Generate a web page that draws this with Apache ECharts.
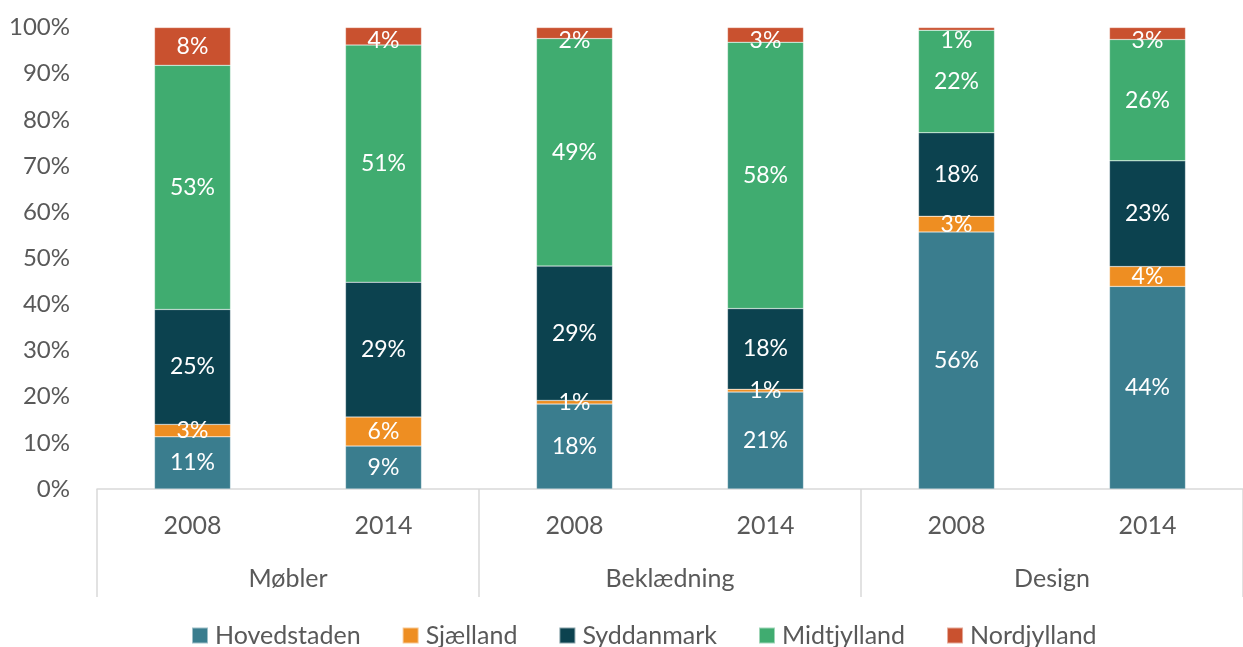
<!DOCTYPE html>
<html>
<head>
<meta charset="utf-8">
<script src="https://cdn.jsdelivr.net/npm/echarts@6/dist/echarts.min.js"></script>
<style>
  html, body { margin: 0; padding: 0; background: #fff; }
  #chart { width: 1243px; height: 647px; }
</style>
</head>
<body>
<div id="chart"></div>
<script>
// kategorier
var years = ['2008', '2014', '2008', '2014', '2008', '2014'];
var groups = ['Møbler', 'Beklædning', 'Design'];

// andele i procent
var hovedstaden = [11.3, 9.3, 18.4, 21.0, 55.7, 43.9];
var sjaelland   = [2.7, 6.3, 0.8, 0.6, 3.4, 4.3];
var syddanmark  = [24.9, 29.2, 29.1, 17.5, 18.1, 22.9];
var midtjylland = [52.9, 51.4, 49.3, 57.7, 22.2, 26.3];
var nordjylland = [8.2, 3.8, 2.4, 3.2, 0.6, 2.6];

var yTicks = [0, 10, 20, 30, 40, 50, 60, 70, 80, 90, 100];

var font = 'Lato, "Open Sans", sans-serif';
var pxPerPct = 461.8 / 100;

function serie(name, data, color, keepInside){
    return {
        name: name,
        type: 'bar',
        stack: 'total',
        barWidth: 76,
        // øverste segment: label skubbes ned så den holder sig inde i plotområdet (som i Excel)
        data: data.map(function(v){
            if(!keepInside) return v;
            var dy = Math.max(0, 13 - v * pxPerPct / 2);
            return { value: v, label: { offset: [0, dy] } };
        }),
        itemStyle: { color: color, borderColor: 'rgba(255,255,255,0.5)', borderWidth: 0.5 },
        label: {
            show: true,
            position: 'inside',
            color: '#fff',
            fontFamily: font,
            fontSize: 23,
            formatter: function(p){ return Math.round(p.value) + '%'; }
        }
    };
}

var myChart = echarts.init(document.getElementById('chart'));
myChart.setOption({
    animation: false,
    textStyle: { fontFamily: font },
    grid: { left: 97, right: -4, top: 27.5, bottom: 158 },
    legend: {
        top: 618,
        left: 186,
        itemWidth: 16,
        itemHeight: 16,
        itemGap: 41,
        icon: 'rect',
        textStyle: { fontSize: 25, color: '#595959', fontFamily: font, padding: [0, 0, 0, 2] },
        data: ['Hovedstaden', 'Sjælland', 'Syddanmark', 'Midtjylland', 'Nordjylland']
    },
    xAxis: [
        {
            type: 'category',
            data: years,
            axisLine: { lineStyle: { color: '#d9d9d9', width: 1.5 } },
            axisTick: { show: false },
            axisLabel: { fontSize: 25, color: '#595959', margin: 24, fontFamily: font }
        },
        {
            type: 'category',
            data: groups,
            position: 'bottom',
            axisLine: { show: false },
            axisTick: { show: true, length: 108, lineStyle: { color: '#d9d9d9', width: 1.5 }, alignWithLabel: false },
            axisLabel: { fontSize: 25, color: '#595959', margin: 77, fontFamily: font }
        }
    ],
    yAxis: {
        type: 'value',
        min: 0,
        max: 100,
        interval: 10,
        axisLine: { show: false },
        axisTick: { show: false },
        splitLine: { show: false },
        axisLabel: {
            fontSize: 24,
            color: '#595959',
            margin: 27,
            fontFamily: font,
            formatter: function(v){ return yTicks.indexOf(v) >= 0 ? v + '%' : ''; }
        }
    },
    series: [
        serie('Hovedstaden', hovedstaden, '#3a7d8e'),
        serie('Sjælland', sjaelland, '#ee8e22'),
        serie('Syddanmark', syddanmark, '#0c424f'),
        serie('Midtjylland', midtjylland, '#40ac70'),
        serie('Nordjylland', nordjylland, '#c9512f', true)
    ]
});
</script>
</body>
</html>
